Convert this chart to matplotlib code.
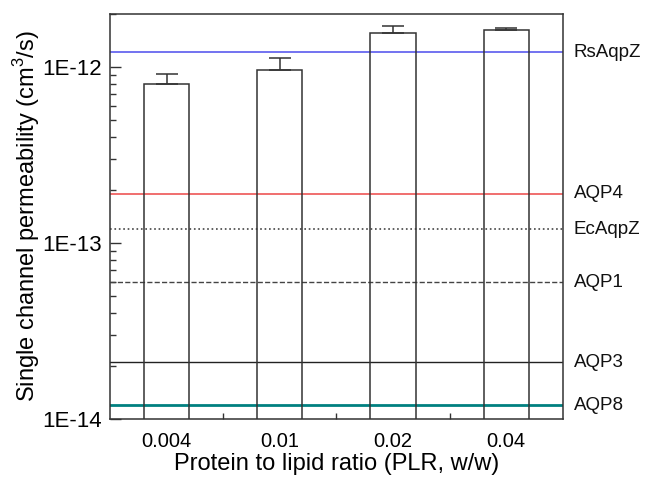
import numpy as np
import matplotlib
matplotlib.use('Agg')
import matplotlib.pyplot as plt

plt.rcParams['font.family'] = ['Liberation Sans', 'DejaVu Sans']
plt.rcParams['mathtext.fontset'] = 'custom'
plt.rcParams['mathtext.rm'] = 'Liberation Sans'

plr_labels = ['0.004', '0.01', '0.02', '0.04']
perm = np.array([8.0e-13, 9.6e-13, 1.57e-12, 1.62e-12])
perm_err = np.array([1.1e-13, 1.7e-13, 1.5e-13, 0.5e-13])

ref_names = ['RsAqpZ', 'AQP4', 'EcAqpZ', 'AQP1', 'AQP3', 'AQP8']
ref_values = [1.21e-12, 1.9e-13, 1.2e-13, 6.0e-14, 2.1e-14, 1.2e-14]
ref_colors = ['#5a5aee', '#ee5555', '#444444', '#444444', '#222222', '#008080']
ref_styles = ['-', '-', ':', '--', '-', '-']
ref_widths = [1.2, 1.2, 1.2, 1.0, 1.0, 2.0]

fig = plt.figure(figsize=(6.53, 4.78), dpi=100)
ax = fig.add_axes([0.1685, 0.1234, 0.6935, 0.8473])

x = np.arange(1, len(plr_labels) + 1)
ax.bar(x, perm, width=0.4, bottom=1e-20, fill=False, edgecolor='#333333', linewidth=1.1, zorder=3)
ax.errorbar(x, perm, yerr=[np.zeros_like(perm_err), perm_err], fmt='none',
            ecolor='#333333', elinewidth=1.1, capsize=8, capthick=1.1, zorder=4)

# reference channel permeabilities, labelled at the right edge
for name, v, c, ls, lw in zip(ref_names, ref_values, ref_colors, ref_styles, ref_widths):
    ax.axhline(v, color=c, linestyle=ls, linewidth=lw, zorder=2)
    ax.annotate(name, xy=(1.0, v), xycoords=('axes fraction', 'data'),
                xytext=(11, 0), textcoords='offset pixels',
                va='center', ha='left', fontsize=13.5, color='#111111')

ax.set_yscale('log')
ax.set_ylim(1e-14, 2e-12)
ax.set_xlim(0.5, 4.5)
ax.set_yticks([1e-14, 1e-13, 1e-12])
ax.set_yticklabels(['1E-14', '1E-13', '1E-12'], fontsize=16)
ax.set_xticks(x)
ax.set_xticklabels(plr_labels, fontsize=14.5)
ax.set_xticks([1.5, 2.5, 3.5], minor=True)
ax.tick_params(axis='x', which='major', length=0, pad=9)
ax.tick_params(axis='x', which='minor', direction='in', length=4, width=1, color='#333333')
ax.tick_params(axis='y', which='major', direction='in', length=8, width=1, color='#333333', right=False, pad=6)
ax.tick_params(axis='y', which='minor', direction='in', length=4, width=1, color='#333333', right=False)

for s in ax.spines.values():
    s.set_color('#333333')
    s.set_linewidth(1.1)

ax.set_xlabel('Protein to lipid ratio (PLR, w/w)', fontsize=17, labelpad=2)
ax.set_ylabel('Single channel permeability (cm$^3$/s)', fontsize=17, labelpad=0)

fig.savefig('out.png', dpi=100)
